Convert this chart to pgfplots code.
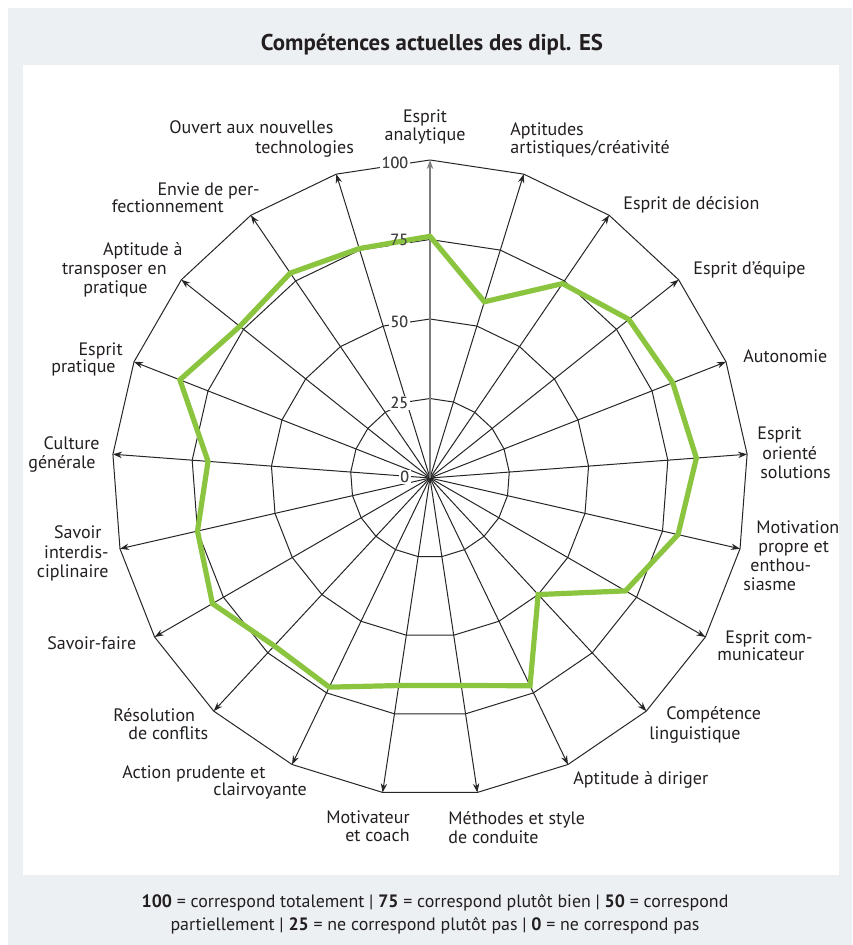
\documentclass[border=0pt]{standalone}
\usepackage{pgfplots}
\pgfplotsset{compat=1.18}
\usepackage{pgfplotstable}
\usetikzlibrary{arrows.meta}
\usepackage{fontspec}
\setmainfont{PT Sans}
\definecolor{bgc}{RGB}{236,240,243}
\definecolor{lime}{RGB}{139,197,63}
\definecolor{txt}{RGB}{35,31,32}
\definecolor{spk}{RGB}{125,125,125}
\tikzset{tl/.style={anchor=east, inner sep=0.8pt, text=txt!85, font=\fontsize{8}{9}\selectfont}}
\pgfplotsset{ring/.style={black!85, line width=0.5pt, mark=none},
  spoke/.style={black!85, line width=0.5pt, mark=none, -{Stealth[length=4.5pt,width=3.2pt]}}}

\pgfplotstableread{
angle    value g25 g50 g75 g100
90       76    25  50  75  100
72.857   58    25  50  75  100
55.714   74    25  50  75  100
38.571   80    25  50  75  100
21.429   82    25  50  75  100
4.286    84    25  50  75  100
-12.857  80    25  50  75  100
-30      71    25  50  75  100
-47.143  50    25  50  75  100
-64.286  72.5  25  50  75  100
-81.429  66    25  50  75  100
-98.571  66    25  50  75  100
-115.714 73    25  50  75  100
-132.857 72    25  50  75  100
-150     79    25  50  75  100
-167.143 75    25  50  75  100
-184.286 70    25  50  75  100
-201.429 84.5  25  50  75  100
-218.571 76.5  25  50  75  100
-235.714 78    25  50  75  100
-252.857 75.5  25  50  75  100
-270     76    25  50  75  100
}\radar

\begin{document}
\begin{tikzpicture}
\begin{scope}[x=0.5pt,y=-0.5pt]
\path[use as bounding box] (0,0) rectangle (852,945);
\fill[white] (0,0) rectangle (852,945);
\fill[bgc] (8,8) rectangle (852,945);
\fill[white] (23,65) rectangle (839,875);
\end{scope}
\begin{axis}[at={(215pt,-239pt)}, anchor=center, x=1.59pt, y=1.59pt,
  xmin=-100, xmax=100, ymin=-100, ymax=100, enlargelimits=false,
  hide axis, clip=false, data cs=polar]
\addplot[ring] table[x=angle,y=g25] {\radar};
\addplot[ring] table[x=angle,y=g50] {\radar};
\addplot[ring] table[x=angle,y=g75] {\radar};
\addplot[ring] table[x=angle,y=g100] {\radar};
\addplot[spoke] coordinates {(72.857,0) (72.857,100)};
\addplot[spoke] coordinates {(55.714,0) (55.714,100)};
\addplot[spoke] coordinates {(38.571,0) (38.571,100)};
\addplot[spoke] coordinates {(21.429,0) (21.429,100)};
\addplot[spoke] coordinates {(4.286,0) (4.286,100)};
\addplot[spoke] coordinates {(-12.857,0) (-12.857,100)};
\addplot[spoke] coordinates {(-30,0) (-30,100)};
\addplot[spoke] coordinates {(-47.143,0) (-47.143,100)};
\addplot[spoke] coordinates {(-64.286,0) (-64.286,100)};
\addplot[spoke] coordinates {(-81.429,0) (-81.429,100)};
\addplot[spoke] coordinates {(-98.571,0) (-98.571,100)};
\addplot[spoke] coordinates {(-115.714,0) (-115.714,100)};
\addplot[spoke] coordinates {(-132.857,0) (-132.857,100)};
\addplot[spoke] coordinates {(-150,0) (-150,100)};
\addplot[spoke] coordinates {(-167.143,0) (-167.143,100)};
\addplot[spoke] coordinates {(-184.286,0) (-184.286,100)};
\addplot[spoke] coordinates {(-201.429,0) (-201.429,100)};
\addplot[spoke] coordinates {(-218.571,0) (-218.571,100)};
\addplot[spoke] coordinates {(-235.714,0) (-235.714,100)};
\addplot[spoke] coordinates {(-252.857,0) (-252.857,100)};
\addplot[spoke, spk, line width=1pt] coordinates {(90,0) (90,100)};
\node[tl, fill=white] at (rel axis cs:0.4686,0.9953) {100};
\node[tl, fill=white] at (rel axis cs:0.4686,0.8742) {75};
\node[tl, fill=white] at (rel axis cs:0.4686,0.7453) {50};
\node[tl, fill=white] at (rel axis cs:0.4686,0.6179) {25};
\node[tl, fill=white] at (rel axis cs:0.4702,0.5016) {0};
\addplot[lime, line width=2.6pt, mark=none, line join=miter, line cap=round] table[x=angle,y=value] {\radar};
\node[tl] at (rel axis cs:0.4686,0.9953) {100};
\node[tl] at (rel axis cs:0.4686,0.8742) {75};
\node[tl] at (rel axis cs:0.4686,0.7453) {50};
\node[tl] at (rel axis cs:0.4686,0.6179) {25};
\node[tl] at (rel axis cs:0.4702,0.5016) {0};
\end{axis}
\begin{scope}[x=0.5pt,y=-0.5pt, every node/.style={inner sep=0pt, text=txt, font=\fontsize{9}{10}\selectfont},
  L/.style={anchor=base west}, R/.style={anchor=base east}, C/.style={anchor=base}]
\node[C, font=\bfseries\fontsize{11.4}{13}\selectfont] at (432,51) {Compétences actuelles des dipl. ES};
% labels
\node[C] at (425,123) {Esprit};
\node[C] at (425,141) {analytique};
\node[L] at (510,136) {Aptitudes};
\node[L] at (510,154) {artistiques/créativité};
\node[L] at (623,210) {Esprit de décision};
\node[L] at (693,275) {Esprit d’équipe};
\node[L] at (743,363) {Autonomie};
\node[L] at (757,439) {Esprit};
\node[L] at (762,459) {orienté};
\node[L] at (760,478) {solutions};
\node[L] at (756,533) {Motivation};
\node[L] at (758,552) {propre et};
\node[L] at (750,571) {enthou-};
\node[L] at (743,590) {siasme};
\node[L] at (725,643) {Esprit com-};
\node[L] at (717,660) {municateur};
\node[L] at (666,719) {Compétence};
\node[L] at (649,739) {linguistique};
\node[L] at (573,784) {Aptitude à diriger};
\node[L] at (448,824) {Méthodes et style};
\node[L] at (448,843) {de conduite};
\node[R] at (410,823) {Motivateur};
\node[R] at (410,841) {et coach};
\node[L] at (122,778) {Action prudente et};
\node[L] at (213,795) {clairvoyante};
\node[L] at (113,721) {Résolution};
\node[L] at (128,739) {de conflits};
\node[L] at (47,649) {Savoir-faire};
\node[R] at (102,538) {Savoir};
\node[R] at (109,558) {interdis-};
\node[R] at (109,577) {ciplinaire};
\node[R] at (100,450) {Culture};
\node[R] at (96,468) {générale};
\node[R] at (123,356) {Esprit};
\node[R] at (116,373) {pratique};
\node[R] at (183,256) {Aptitude à};
\node[R] at (167,275) {transposer en};
\node[R] at (148,294) {pratique};
\node[R] at (260,196) {Envie de per-};
\node[R] at (224,213) {fectionnement};
\node[L] at (169,134) {Ouvert aux nouvelles};
\node[L] at (255,154) {technologies};
% footer
\node[C, font=\fontsize{8.95}{10}\selectfont] at (435,907) {\textbf{100} = correspond totalement | \textbf{75} = correspond plutôt bien | \textbf{50} = correspond};
\node[C, font=\fontsize{8.95}{10}\selectfont] at (435,930) {partiellement | \textbf{25} = ne correspond plutôt pas | \textbf{0} = ne correspond pas};
\end{scope}
\end{tikzpicture}
\end{document}
